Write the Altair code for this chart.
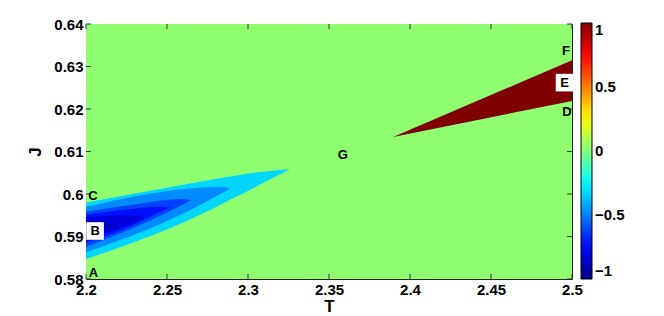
import altair as alt
import pandas as pd

# ---------------- data ----------------
T_TICKS = [2.2, 2.25, 2.3, 2.35, 2.4, 2.45, 2.5]
J_TICKS = [0.58, 0.59, 0.60, 0.61, 0.62, 0.63, 0.64]
CBAR_TICKS = [-1, -0.5, 0, 0.5, 1]

T_RANGE = [2.2, 2.5]
J_RANGE = [0.58, 0.64]

BG_LEVEL = 0.03

# negative (blue) contour regions, outermost first
NEG_LEVELS = [-0.33, -0.48, -0.62, -0.72, -0.82, -0.92]
NEG_T = [
    [2.2, 2.2642, 2.2951, 2.318, 2.3259],
    [2.2, 2.2642, 2.283, 2.2889],
    [2.2, 2.235, 2.258, 2.265],
    [2.2, 2.228, 2.246, 2.252],
    [2.2, 2.22, 2.232, 2.236],
    [2.2, 2.21, 2.216],
]
NEG_UPPER = [
    [0.5980, 0.6025, 0.6045, 0.6056, 0.6058],
    [0.5970, 0.6013, 0.6017, 0.6013],
    [0.5958, 0.5978, 0.5988, 0.5986],
    [0.5951, 0.5965, 0.5970, 0.5968],
    [0.5944, 0.5950, 0.5948, 0.5945],
    [0.5934, 0.5932, 0.5926],
]
NEG_LOWER = [
    [0.5847, 0.5940, 0.5998, 0.6043, 0.6058],
    [0.5863, 0.5962, 0.6000, 0.6013],
    [0.5876, 0.5930, 0.5972, 0.5986],
    [0.5886, 0.5925, 0.5958, 0.5968],
    [0.5896, 0.5918, 0.5938, 0.5945],
    [0.5906, 0.5915, 0.5926],
]

# positive (red) region
POS_LEVEL = 1.0
POS_T = [2.3895, 2.5]
POS_UPPER = [0.6134, 0.6315]
POS_LOWER = [0.6134, 0.6219]

# point labels
TXT_LABELS = ["A", "C", "G", "F", "D"]
TXT_T = [2.2046, 2.2043, 2.3586, 2.4963, 2.4969]
TXT_J = [0.5814, 0.5995, 0.6092, 0.63365, 0.6192]

BOX_LABELS = ["B", "E"]
BOX_T = [2.2056, 2.4954]
BOX_J = [0.5913, 0.6262]

# jet colormap
JET_DOMAIN = [-1, -0.75, -0.25, 0.25, 0.75, 1]
JET_RANGE = ["#000080", "#0000ff", "#00ffff", "#ffff00", "#ff0000", "#800000"]

# ---------------- chart ----------------
FONT = "Liberation Sans"

xs = alt.Scale(domain=T_RANGE, nice=False, zero=False)
ys = alt.Scale(domain=J_RANGE, nice=False, zero=False)
cs = alt.Scale(domain=JET_DOMAIN, range=JET_RANGE, interpolate="rgb")

color_enc = alt.Color(
    "level:Q",
    scale=cs,
    legend=alt.Legend(
        title=None,
        orient="none",
        legendX=495,
        legendY=-1,
        direction="vertical",
        gradientLength=256,
        gradientThickness=11,
        gradientStrokeColor="#000",
        gradientStrokeWidth=1,
        values=CBAR_TICKS,
        format=".1~f",
        labelFont=FONT,
        labelFontSize=15,
        labelFontWeight="bold",
        labelColor="#000",
        labelOffset=3,
        labelOverlap=False,
    ),
)

x_axis = alt.Axis(
    values=T_TICKS, format="~g", title="T", labelFlush=False, labelOverlap=False,
    ticks=False, domain=False, grid=False, labelPadding=3, titlePadding=1,
)
y_axis = alt.Axis(
    values=J_TICKS, format="~g", title="J", labelFlush=False, labelOverlap=False,
    ticks=False, domain=False, grid=False, labelPadding=3, titlePadding=9,
)

bg_df = pd.DataFrame({"T0": [T_RANGE[0]], "T1": [T_RANGE[1]],
                      "J0": [J_RANGE[0]], "J1": [J_RANGE[1]], "level": [BG_LEVEL]})
bg = alt.Chart(bg_df).mark_rect().encode(
    x=alt.X("T0:Q", scale=xs, axis=x_axis),
    x2="T1",
    y=alt.Y("J0:Q", scale=ys, axis=y_axis),
    y2="J1",
    color=color_enc,
)

layers = [bg]


def region(ts, up, lo, lev):
    df = pd.DataFrame({"T": ts, "upper": up, "lower": lo, "level": [lev] * len(ts)})
    return alt.Chart(df).mark_area(interpolate="monotone").encode(
        x=alt.X("T:Q", scale=xs),
        y=alt.Y("lower:Q", scale=ys),
        y2="upper",
        color=color_enc,
    )


for lev, ts, up, lo in zip(NEG_LEVELS, NEG_T, NEG_UPPER, NEG_LOWER):
    layers.append(region(ts, up, lo, lev))
layers.append(alt.Chart(pd.DataFrame({"T": POS_T, "upper": POS_UPPER, "lower": POS_LOWER,
                                      "level": [POS_LEVEL] * 2}))
              .mark_area().encode(x=alt.X("T:Q", scale=xs), y=alt.Y("lower:Q", scale=ys),
                                  y2="upper", color=color_enc))

# inward ticks (MATLAB style)
tick_len_j = 0.0012
tick_len_t = 0.003
bt = pd.DataFrame({"T": T_TICKS, "a": [J_RANGE[0]] * 7, "b": [J_RANGE[0] + tick_len_j] * 7})
tt = pd.DataFrame({"T": T_TICKS, "a": [J_RANGE[1]] * 7, "b": [J_RANGE[1] - tick_len_j] * 7})
lt = pd.DataFrame({"J": J_TICKS, "a": [T_RANGE[0]] * 7, "b": [T_RANGE[0] + tick_len_t] * 7})
rt = pd.DataFrame({"J": J_TICKS, "a": [T_RANGE[1]] * 7, "b": [T_RANGE[1] - tick_len_t] * 7})
for d in (bt, tt):
    layers.append(alt.Chart(d).mark_rule(color="#333", strokeWidth=1).encode(
        x=alt.X("T:Q", scale=xs), y=alt.Y("a:Q", scale=ys), y2="b"))
for d in (lt, rt):
    layers.append(alt.Chart(d).mark_rule(color="#333", strokeWidth=1).encode(
        y=alt.Y("J:Q", scale=ys), x=alt.X("a:Q", scale=xs), x2="b"))

# white boxes and labels
box_df = pd.DataFrame({"T": BOX_T, "J": BOX_J, "lab": BOX_LABELS})
layers.append(alt.Chart(box_df).mark_point(shape="square", filled=True, size=310,
                                           color="white", opacity=1).encode(
    x=alt.X("T:Q", scale=xs), y=alt.Y("J:Q", scale=ys)))
layers.append(alt.Chart(box_df).mark_text(font=FONT, fontSize=13, fontWeight="bold",
                                          color="#000", baseline="middle", align="center").encode(
    x=alt.X("T:Q", scale=xs), y=alt.Y("J:Q", scale=ys), text="lab:N"))
txt_df = pd.DataFrame({"T": TXT_T, "J": TXT_J, "lab": TXT_LABELS})
layers.append(alt.Chart(txt_df).mark_text(font=FONT, fontSize=13, fontWeight="bold",
                                          color="#000", baseline="middle", align="center").encode(
    x=alt.X("T:Q", scale=xs), y=alt.Y("J:Q", scale=ys), text="lab:N"))

chart = alt.layer(*layers).properties(
    width=486,
    height=255,
    autosize=alt.AutoSizeParams(type="none"),
    padding={"left": 78, "top": 16, "right": 84, "bottom": 34},
    background="white",
).configure_view(
    stroke="#222", strokeWidth=1
).configure_axis(
    labelFont=FONT, labelFontSize=15, labelFontWeight="bold", labelColor="#000",
    titleFont=FONT, titleFontSize=17, titleFontWeight="bold", titleColor="#000",
)

chart.save("out.html", embed_options={"renderer": "svg", "actions": False})
